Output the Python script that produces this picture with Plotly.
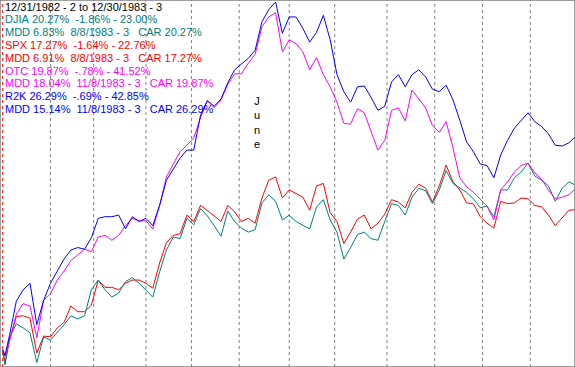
import plotly.graph_objects as go

# trading-day index from 12/31/1982 (0) to 12/30/1983 (252)
days = [0, 1, 3, 6, 9, 12, 15, 18, 21, 24, 27, 30, 33, 36, 39, 42, 45, 48, 51, 54,
        57, 60, 63, 66, 69, 72, 75, 78, 81, 84, 87, 90, 93, 96, 99, 102, 105, 108,
        111, 114, 117, 120, 123, 126, 129, 132, 135, 138, 141, 144, 147, 150, 153,
        156, 159, 162, 165, 168, 171, 174, 177, 180, 183, 186, 189, 192, 195, 198,
        201, 204, 207, 210, 213, 216, 219, 222, 225, 228, 231, 234, 237, 240, 243,
        246, 249, 252]

djia = [0, -1.86, 1.5, 3.2, 2.7, 2.1, -1.56, 1.6, 1.2, 2.1, 3.1, 4.2, 3.8, 4.2, 7.4,
        8.6, 7.4, 6.5, 7.0, 8.4, 8.9, 8.2, 7.3, 6.5, 9.6, 12.3, 13.9, 13.7, 16.2, 15.4,
        17.4, 16.5, 15.3, 14.0, 17.1, 15.8, 15.0, 14.5, 14.8, 18.1, 19.1, 18.3, 16.0,
        16.6, 15.8, 15.3, 14.9, 17.6, 18.5, 16.0, 14.5, 11.2, 12.6, 14.2, 14.5, 13.7,
        13.5, 15.8, 18.0, 17.8, 16.6, 18.8, 19.9, 19.6, 18.0, 19.7, 22.1, 20.5, 19.9,
        19.4, 18.6, 17.5, 17.7, 16.4, 19.7, 19.7, 21.2, 21.9, 23.0, 21.4, 20.9, 20.2,
        18.3, 19.9, 20.7, 20.27]

spx = [0, -1.64, 1.2, 4.1, 4.2, 3.9, -0.4, 1.7, 1.6, 2.7, 3.4, 5.4, 4.7, 4.7, 5.5,
       8.6, 7.7, 7.7, 7.4, 8.2, 8.6, 8.6, 8.2, 7.6, 10.7, 13.2, 14.1, 14.3, 16.6, 15.8,
       17.8, 17.2, 16.5, 15.8, 17.8, 17.0, 15.8, 16.2, 15.6, 18.7, 20.9, 21.3, 18.7,
       19.7, 19.2, 18.8, 17.2, 20.2, 20.5, 16.9, 15.8, 13.1, 14.5, 16.1, 16.6, 14.9,
       15.6, 16.7, 18.5, 18.2, 17.5, 19.4, 20.4, 19.9, 18.2, 20.2, 22.76, 20.7, 19.7,
       18.1, 18.0, 16.4, 15.6, 15.0, 18.3, 18.0, 18.1, 18.7, 18.6, 17.8, 17.6, 16.6,
       15.3, 16.3, 17.2, 17.27]

otc = [0, -0.78, 1.1, 4.4, 5.7, 5.4, 1.5, 6.1, 6.9, 8.6, 9.7, 11.0, 11.7, 12.4, 12.1,
       13.9, 14.1, 13.5, 14.1, 15.3, 16.2, 15.9, 15.9, 14.9, 17.8, 21.3, 22.9, 24.4,
       25.2, 26.1, 28.6, 30.7, 29.8, 30.8, 32.7, 34.0, 34.0, 35.3, 36.4, 39.8, 41.0,
       41.52, 36.7, 38.2, 37.7, 36.7, 34.5, 36.0, 33.9, 32.4, 30.5, 27.9, 27.8, 29.7,
       29.2, 26.8, 24.6, 25.8, 29.5, 29.8, 28.2, 32.0, 30.9, 29.8, 27.6, 26.8, 28.1,
       24.9, 21.2, 20.1, 19.4, 18.5, 17.7, 16.0, 19.7, 20.7, 21.9, 22.7, 23.0, 21.8,
       21.0, 19.7, 18.6, 18.8, 19.1, 19.87]

r2k = [0, -0.69, 1.8, 6.0, 7.4, 8.2, 3.1, 6.1, 8.2, 9.8, 11.2, 12.3, 12.6, 12.4, 13.8,
       16.2, 16.4, 16.4, 16.6, 14.9, 16.4, 15.8, 16.2, 15.3, 17.8, 20.9, 22.2, 23.6,
       24.6, 24.6, 28.9, 30.7, 30.0, 30.9, 32.9, 34.5, 35.2, 35.9, 36.9, 40.4, 41.9,
       42.85, 39.0, 41.0, 41.0, 39.6, 37.9, 39.1, 41.2, 38.2, 33.9, 31.8, 30.5, 32.4,
       32.5, 31.1, 29.5, 30.0, 33.0, 33.9, 32.4, 33.9, 34.5, 33.6, 32.1, 31.8, 32.6,
       30.8, 28.3, 25.6, 24.4, 22.9, 22.7, 21.2, 24.0, 25.8, 27.3, 28.3, 29.2, 28.1,
       27.5, 26.6, 25.2, 25.1, 25.5, 26.29]

# first trading day of each month (Feb..Dec)
month_starts = [21, 40, 63, 83, 104, 126, 146, 169, 190, 211, 232]
june_day = 104

series = [
    ("DJIA", djia, "#008080"),
    ("SPX", spx, "#FF0000"),
    ("OTC", otc, "#FF00FF"),
    ("R2K", r2k, "#0000FF"),
]

legend_lines = [
    ("12/31/1982 - 2 to 12/30/1983 - 3", "#000000"),
    ("DJIA 20.27%  -1.86% - 23.00%", "#008080"),
    ("MDD 6.83%  8/8/1983 - 3   CAR 20.27%", "#008080"),
    ("SPX 17.27%  -1.64% - 22.76%", "#FF0000"),
    ("MDD 6.91%  8/8/1983 - 3   CAR 17.27%", "#FF0000"),
    ("OTC 19.87%  -.78% - 41.52%", "#FF00FF"),
    ("MDD 18.04%  11/8/1983 - 3   CAR 19.87%", "#FF00FF"),
    ("R2K 26.29%  -.69% - 42.85%", "#0000FF"),
    ("MDD 15.14%  11/8/1983 - 3   CAR 26.29%", "#0000FF"),
]

W, H = 575, 367
fig = go.Figure()

# order so that blue/magenta sit on top like the original
for name, vals, col in [series[1], series[0], series[2], series[3]]:
    fig.add_trace(go.Scatter(x=days, y=vals, mode="lines", name=name,
                             line=dict(color=col, width=1), hoverinfo="skip"))

shapes = []
shapes.append(dict(type="line", xref="x", yref="paper", x0=0, x1=0, y0=0, y1=1,
                   line=dict(color="#FF0000", width=1, dash="3px,3px"), layer="below"))
for d in month_starts:
    shapes.append(dict(type="line", xref="x", yref="paper", x0=d, x1=d, y0=0, y1=1,
                       line=dict(color="#808080", width=1, dash="3px,3px"), layer="below"))
shapes.append(dict(type="rect", xref="paper", yref="paper", x0=0, x1=1, y0=0, y1=1,
                   line=dict(color="#808080", width=1.5)))

annotations = []
for i, (txt, col) in enumerate(legend_lines):
    ypx = 6.7 + 12.8 * i
    annotations.append(dict(
        text=txt.replace(" ", "\u00a0"), xref="paper", yref="paper",
        x=3 / W, y=1 - ypx / H, xanchor="left", yanchor="middle", showarrow=False,
        font=dict(family="Arial, Liberation Sans, sans-serif", size=11, color=col)))

annotations.append(dict(
    text="J<br>u<br>n<br>e", xref="x", yref="paper", x=june_day + 8, y=1 - 122 / H,
    xanchor="center", yanchor="middle", showarrow=False,
    font=dict(family="Arial, Liberation Sans, sans-serif", size=11, color="#000000")))

fig.update_layout(
    width=W, height=H,
    margin=dict(l=0, r=0, t=0, b=0),
    paper_bgcolor="white", plot_bgcolor="white",
    showlegend=False,
    shapes=shapes, annotations=annotations,
    xaxis=dict(range=[-1.187, 251.67], showgrid=False, zeroline=False,
               showticklabels=False, showline=False, fixedrange=True),
    yaxis=dict(range=[-2.11, 43.09], showgrid=False, zeroline=False,
               showticklabels=False, showline=False, fixedrange=True),
)

fig.write_html("out.html", config={"displayModeBar": False},
               post_script="document.body.style.margin='0px';document.body.style.overflow='hidden';")
